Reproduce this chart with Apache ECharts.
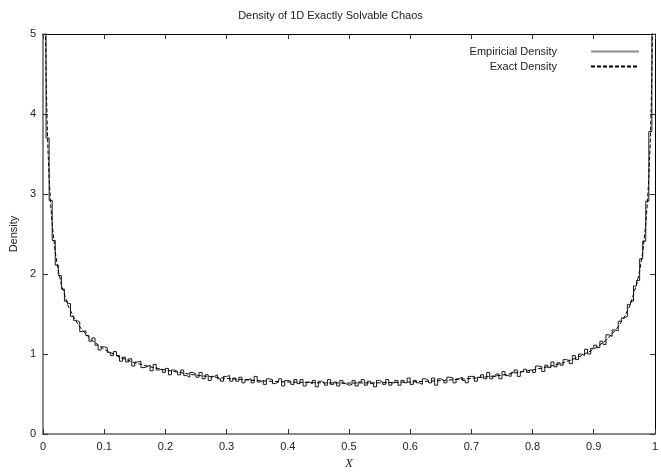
<!DOCTYPE html>
<html>
<head>
<meta charset="utf-8">
<script src="https://cdn.jsdelivr.net/npm/echarts@6/dist/echarts.min.js"></script>
<style>
  html, body { margin: 0; padding: 0; background: #fff; }
  #chart { width: 661px; height: 476px; }
</style>
</head>
<body>
<div id="chart"></div>
<script>
  /** Data */
  var chartTitle = 'Density of 1D Exactly Solvable Chaos';
  var seriesNames = ['Empiricial Density', 'Exact Density'];

  // histogram: 200 bins of width 0.005 over [0, 1]
  var binWidth = 0.005;
  var empirical = [
    9.0, 3.70, 2.92, 2.42, 2.11, 1.98, 1.81, 1.66, 1.63, 1.47,
    1.42, 1.40, 1.28, 1.29, 1.23, 1.16, 1.20, 1.11, 1.05, 1.09,
    1.08, 1.02, 0.98, 1.03, 0.98, 0.91, 0.96, 0.90, 0.94, 0.85,
    0.90, 0.91, 0.83, 0.84, 0.86, 0.79, 0.87, 0.80, 0.81, 0.77,
    0.82, 0.74, 0.80, 0.78, 0.74, 0.80, 0.73, 0.71, 0.77, 0.75,
    0.71, 0.77, 0.69, 0.74, 0.67, 0.72, 0.74, 0.69, 0.66, 0.72,
    0.73, 0.66, 0.70, 0.66, 0.71, 0.64, 0.68, 0.69, 0.64, 0.72,
    0.65, 0.67, 0.62, 0.69, 0.68, 0.63, 0.65, 0.69, 0.60, 0.67,
    0.66, 0.62, 0.68, 0.63, 0.68, 0.60, 0.65, 0.63, 0.67, 0.59,
    0.66, 0.64, 0.61, 0.68, 0.62, 0.65, 0.60, 0.67, 0.63, 0.61,
    0.62, 0.67, 0.60, 0.65, 0.68, 0.61, 0.66, 0.63, 0.59, 0.67,
    0.65, 0.62, 0.68, 0.61, 0.64, 0.67, 0.61, 0.67, 0.64, 0.70,
    0.62, 0.67, 0.64, 0.62, 0.69, 0.67, 0.64, 0.70, 0.61, 0.69,
    0.67, 0.64, 0.71, 0.70, 0.64, 0.69, 0.71, 0.67, 0.64, 0.72,
    0.72, 0.66, 0.71, 0.74, 0.69, 0.77, 0.69, 0.72, 0.75, 0.69,
    0.78, 0.73, 0.72, 0.77, 0.80, 0.72, 0.78, 0.81, 0.77, 0.80,
    0.77, 0.85, 0.84, 0.78, 0.86, 0.83, 0.90, 0.84, 0.89, 0.86,
    0.93, 0.92, 0.88, 0.98, 0.93, 1.00, 0.98, 1.06, 1.00, 1.07,
    1.11, 1.08, 1.16, 1.12, 1.24, 1.22, 1.30, 1.29, 1.41, 1.45,
    1.47, 1.62, 1.66, 1.85, 1.92, 2.19, 2.41, 2.91, 3.78, 9.0
  ];

  var exactX = [
    0.001, 0.002, 0.003, 0.004, 0.005, 0.0065, 0.008, 0.01, 0.0125, 0.015,
    0.02, 0.025, 0.03, 0.04, 0.05, 0.06, 0.07, 0.08, 0.1, 0.125,
    0.15, 0.175, 0.2, 0.25, 0.3, 0.35, 0.4, 0.45, 0.5,
    0.55, 0.6, 0.65, 0.7, 0.75, 0.8, 0.825, 0.85, 0.875, 0.9,
    0.92, 0.93, 0.94, 0.95, 0.96, 0.97, 0.975, 0.98, 0.985, 0.9875,
    0.99, 0.992, 0.9935, 0.995, 0.996, 0.997, 0.998, 0.999
  ];
  var exactY = [
    10.07, 7.13, 5.82, 5.04, 4.51, 3.96, 3.57, 3.20, 2.87, 2.62,
    2.27, 2.04, 1.87, 1.62, 1.46, 1.34, 1.25, 1.17, 1.06, 0.96,
    0.89, 0.84, 0.80, 0.735, 0.695, 0.667, 0.650, 0.640, 0.637,
    0.640, 0.650, 0.667, 0.695, 0.735, 0.80, 0.84, 0.89, 0.96, 1.06,
    1.17, 1.25, 1.34, 1.46, 1.62, 1.87, 2.04, 2.27, 2.62, 2.87,
    3.20, 3.57, 3.96, 4.51, 5.04, 5.82, 7.13, 10.07
  ];

  var xTicks = { min: 0, max: 1, interval: 0.1 };
  var yTicks = { min: 0, max: 5, interval: 1 };

  /** Build */
  var empiricalData = empirical.map(function(v, i) { return [i * binWidth, v]; });
  empiricalData.push([1, empirical[empirical.length - 1]]);
  var exactData = exactX.map(function(x, i) { return [x, exactY[i]]; });

  var font = 'Liberation Sans, Arial, sans-serif';
  var txt = '#222';

  function legendFor(name, top, sampleColor) {
    return {
      data: [name],
      right: 16,
      top: top,
      align: 'right',
      itemWidth: 48,
      itemHeight: 10,
      selectedMode: false,
      itemStyle: { opacity: 0 },
      lineStyle: { color: sampleColor },
      textStyle: { fontFamily: font, fontSize: 11, color: txt, padding: [0, 29, 0, 0] }
    };
  }

  var option = {
    animation: false,
    backgroundColor: '#fff',
    title: {
      text: chartTitle,
      left: 'center',
      top: 5,
      textStyle: { fontFamily: font, fontSize: 11, fontWeight: 'normal', color: txt }
    },
    legend: [legendFor(seriesNames[0], 41, '#888'), legendFor(seriesNames[1], 56, '#000')],
    grid: { left: 43, right: 1, top: 34, bottom: 42, containLabel: false },
    xAxis: [{
      type: 'value', min: xTicks.min, max: xTicks.max, interval: xTicks.interval,
      position: 'bottom',
      name: 'X', nameLocation: 'middle', nameGap: 21,
      nameTextStyle: { fontFamily: 'Liberation Serif, serif', fontStyle: 'italic', fontSize: 13, color: txt },
      axisLine: { onZero: false, lineStyle: { color: '#888', width: 2 } },
      axisTick: { inside: true, length: 5, lineStyle: { color: '#333' } },
      axisLabel: { fontFamily: font, fontSize: 11, color: txt, margin: 7 },
      splitLine: { show: false }
    }, {
      type: 'value', min: xTicks.min, max: xTicks.max, interval: xTicks.interval,
      position: 'top',
      axisLine: { onZero: false, lineStyle: { color: '#000', width: 1 } },
      axisTick: { inside: true, length: 5, lineStyle: { color: '#333' } },
      axisLabel: { show: false },
      splitLine: { show: false }
    }],
    yAxis: [{
      type: 'value', min: yTicks.min, max: yTicks.max, interval: yTicks.interval,
      position: 'left',
      name: 'Density', nameLocation: 'middle', nameGap: 23,
      nameTextStyle: { fontFamily: font, fontSize: 11, color: txt },
      axisLine: { show: true, onZero: false, lineStyle: { color: '#888', width: 2 } },
      axisTick: { show: true, inside: true, length: 5, lineStyle: { color: '#333' } },
      axisLabel: { fontFamily: font, fontSize: 11, color: txt, margin: 7 },
      splitLine: { show: false }
    }, {
      type: 'value', min: yTicks.min, max: yTicks.max, interval: yTicks.interval,
      position: 'right',
      axisLine: { show: true, onZero: false, lineStyle: { color: '#000', width: 1 } },
      axisTick: { show: true, inside: true, length: 5, lineStyle: { color: '#333' } },
      axisLabel: { show: false },
      splitLine: { show: false }
    }],
    series: [{
      name: seriesNames[0],
      type: 'line',
      step: 'end',
      data: empiricalData,
      symbol: 'none',
      color: '#888',
      lineStyle: { color: '#1a1a1a', width: 1 }
    }, {
      name: seriesNames[1],
      type: 'line',
      data: exactData,
      symbol: 'none',
      color: '#000',
      lineStyle: { color: '#000', width: 1, type: [4, 2] }
    }]
  };

  echarts.init(document.getElementById('chart')).setOption(option);
</script>
</body>
</html>
